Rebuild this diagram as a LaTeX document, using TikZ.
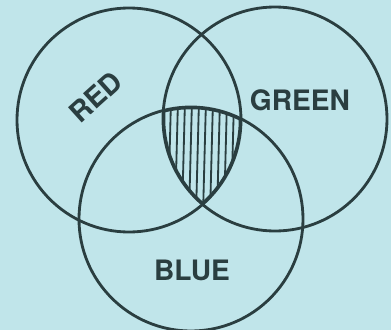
\documentclass[tikz,border=0pt]{standalone}
\usepackage{fontspec}
\setmainfont{TeX Gyre Heros}
\usetikzlibrary{positioning}
\definecolor{paper}{RGB}{192,229,234}
\definecolor{ink}{RGB}{42,62,64}
\tikzset{
  % Set outline
  setring/.style={draw=ink, line width=2pt},
  % Set label
  setlabel/.style={text=ink, font=\fontsize{20}{23}\selectfont\bfseries, inner sep=0pt},
  % Hatch stroke
  hatchline/.style={draw=ink, line width=1.3pt},
}

\begin{document}
\begin{tikzpicture}[x=0.025cm, y=-0.025cm]

% ── Background ────────────────────────────────────────────────────────────────
\fill[paper] (0,0) rectangle (391,330);
\useasboundingbox (0,0) rectangle (391,330);

% ── Circle centres ────────────────────────────────────────────────────────────
\coordinate (redc)   at (129,120);
\coordinate (greenc) at (275,119);
\coordinate (bluec)  at (191,219);
\def\rad{112}

% ── Triple overlap hatching ───────────────────────────────────────────────────
\begin{scope}
  \clip (redc) circle (\rad);
  \clip (greenc) circle (\rad);
  \clip (bluec) circle (\rad);
  \foreach \x in {150,157,...,260}{
    \draw[hatchline] (\x,100) -- (\x-3,215);
  }
  % heavier rim of the overlap
  \draw[ink, line width=3.2pt] (redc) circle (\rad);
  \draw[ink, line width=3.2pt] (greenc) circle (\rad);
  \draw[ink, line width=3.2pt] (bluec) circle (\rad);
\end{scope}

% ── Sets ──────────────────────────────────────────────────────────────────────
\draw[setring] (redc) circle (\rad);
\draw[setring] (greenc) circle (\rad);
\draw[setring] (bluec) circle (\rad);

% ── Labels ────────────────────────────────────────────────────────────────────
\node[setlabel, rotate=42] (redlab) at (96,97) {RED};
\node[setlabel] (greenlab) at (300,100) {GREEN};
\node[setlabel] (bluelab) at (192,270) {BLUE};

\end{tikzpicture}
\end{document}
